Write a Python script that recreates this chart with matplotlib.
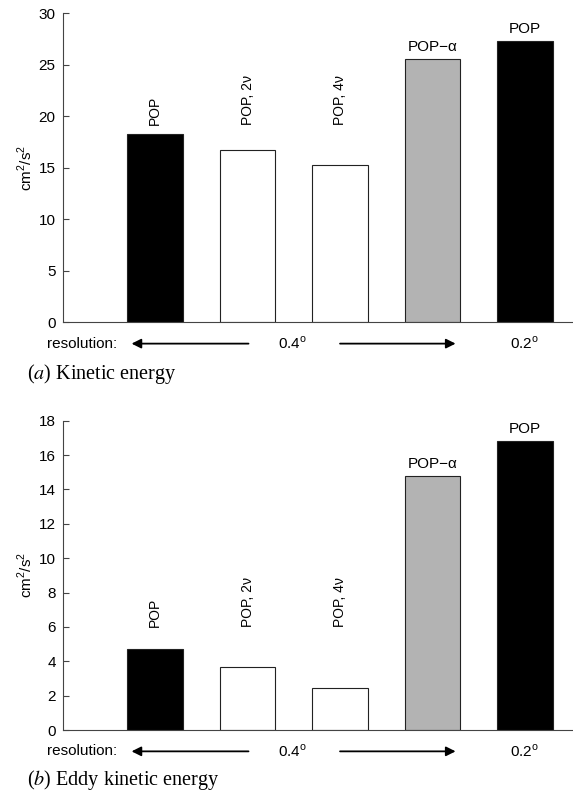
import numpy as np
import matplotlib.pyplot as plt

plt.rcParams['font.family'] = ['Liberation Sans', 'DejaVu Sans']
plt.rcParams['mathtext.fontset'] = 'custom'
plt.rcParams['mathtext.rm'] = 'Liberation Sans'
plt.rcParams['font.size'] = 11

# bar data
pos = np.arange(1, 6)
ke = [18.3, 16.7, 15.3, 25.6, 27.3]
eke = [4.7, 3.65, 2.45, 14.8, 16.8]
names = ["POP", "POP, 2\u03bd", "POP, 4\u03bd", "POP\u2212\u03b1", "POP"]
colors = ["black", "white", "white", "#b3b3b3", "black"]
captions = ["Kinetic energy", "Eddy kinetic energy"]
letters = ["a", "b"]

fig = plt.figure(figsize=(5.73, 7.96), dpi=100)
ax1 = fig.add_axes([0.1094, 0.5951, 1 - 0.1094, 0.3882])
ax2 = fig.add_axes([0.1094, 0.0829, 1 - 0.1094, 0.3886])

panels = [(ax1, ke, 30, 5, 19.2), (ax2, eke, 18, 2, 6.0)]

for i, (ax, vals, ymax, step, lab_y) in enumerate(panels):
    ax.bar(pos, vals, width=0.6, color=colors, edgecolor='#222222', linewidth=0.8)
    ax.set_xlim(0, 5.52)
    ax.set_ylim(0, ymax)
    ax.set_yticks(np.arange(0, ymax + 1, step))
    ax.set_xticks([])
    for s in ['top', 'right']:
        ax.spines[s].set_visible(False)
    ax.spines['left'].set_color('#444444')
    ax.spines['bottom'].set_color('#444444')
    ax.tick_params(axis='y', direction='in', length=4, color='#444444', pad=5)
    ax.set_ylabel("cm$^2$/s$^2$", labelpad=3)

    # labels over bars
    for j in range(3):
        ax.text(pos[j], lab_y, names[j], rotation=90, ha='center', va='bottom',
                fontsize=10)
    for j in range(3, 5):
        ax.annotate(names[j], (pos[j], vals[j]), xytext=(0, 5),
                    textcoords='offset pixels', ha='center', va='bottom')

    # resolution row
    yr = -0.069
    tr = ax.get_xaxis_transform()
    ax.text(0.59, yr, "resolution:", transform=tr, ha='right', va='center')
    ax.annotate('', xy=(0.745, yr), xytext=(2.01, yr), xycoords=tr, textcoords=tr,
                arrowprops=dict(arrowstyle='-|>', color='black', lw=1.3,
                                mutation_scale=14, shrinkA=0, shrinkB=0))
    ax.annotate('', xy=(4.25, yr), xytext=(3.0, yr), xycoords=tr, textcoords=tr,
                arrowprops=dict(arrowstyle='-|>', color='black', lw=1.3,
                                mutation_scale=14, shrinkA=0, shrinkB=0))
    ax.text(2.48, yr, "0.4$^\\mathrm{o}$", transform=tr, ha='center', va='center')
    ax.text(5.0, yr, "0.2$^\\mathrm{o}$", transform=tr, ha='center', va='center')

cap_y = [1 - 374 / 796, 1 - 780 / 796]
for k in range(2):
    fig.text(0.047, cap_y[k], "(" + "$\\it{" + letters[k] + "}$" + ") " + captions[k],
             family='Liberation Serif', fontsize=14.5, va='center', ha='left',
             math_fontfamily='stix')

fig.savefig("out.png", dpi=100)
